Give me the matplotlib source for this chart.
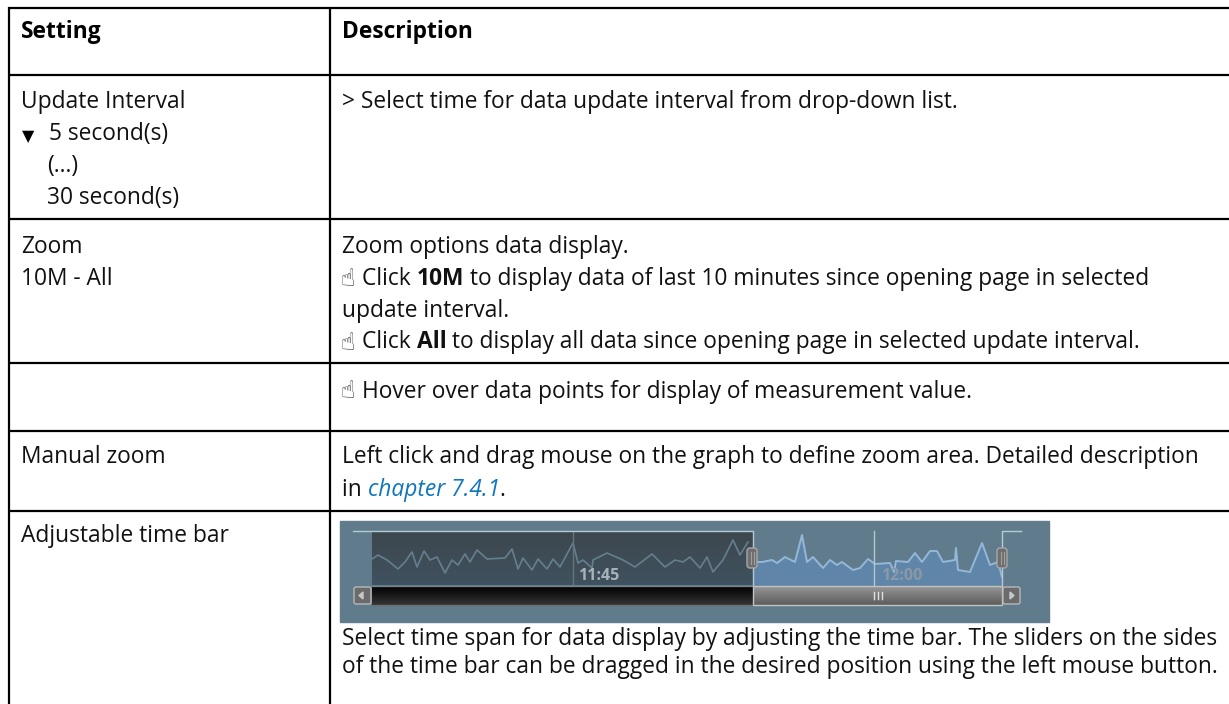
import numpy as np
import matplotlib
matplotlib.use('Agg')
import matplotlib.pyplot as plt
from matplotlib.patches import Rectangle, FancyBboxPatch

plt.rcParams['font.family'] = ['Open Sans', 'DejaVu Sans']

# table text
headers = ['Setting', 'Description']
row_lines = [8, 75, 219, 362.5, 431, 511]
col_lines = [9, 330]

left_cells = [
    (108.5, 21, 'Update Interval'),
    (140.5, 49, '5 second(s)'),
    (172.5, 47, '(...)'),
    (204.5, 47, '30 second(s)'),
    (253, 21, 'Zoom'),
    (285, 21, '10M - All'),
    (463, 21, 'Manual zoom'),
    (541.5, 21, 'Adjustable time bar'),
]
# each line of the right column is a list of (text, style) runs
right_cells = [
    (108.5, [('> Select time for data update interval from drop-down list.', 'n')]),
    (253, [('Zoom options data display.', 'n')]),
    (285, [('Click ', 'n'), ('10M', 'b'), (' to display data of last 10 minutes since opening page in selected', 'n')]),
    (317, [('update interval.', 'n')]),
    (348.5, [('Click ', 'n'), ('All', 'b'), (' to display all data since opening page in selected update interval.', 'n')]),
    (397.5, [('Hover over data points for display of measurement value.', 'n')]),
    (463, [('Left click and drag mouse on the graph to define zoom area. Detailed description', 'n')]),
    (495.5, [('in ', 'n'), ('chapter 7.4.1', 'l'), ('.', 'n')]),
    (645, [('Select time span for data display by adjusting the time bar. The sliders on the sides', 'n')]),
    (673, [('of the time bar can be dragged in the desired position using the left mouse button.', 'n')]),
]
hand_rows = [285, 348.5, 397.5]

# time bar curve (pixels)
wave_x = [372, 378, 387, 398, 405, 412, 417, 424, 430, 437, 445, 452, 458, 465, 470, 477,
          487, 505, 512, 518, 523, 532, 538, 547, 553, 560, 573, 578, 583, 592, 593, 607,
          623, 635, 652, 665, 675, 683, 690, 700, 707, 713, 723, 733, 740, 748, 753,
          762, 772, 777, 785, 795, 802, 807, 813, 823, 830, 837, 842, 853, 860, 868,
          875, 890, 894, 896, 908, 915, 922, 930, 937, 943, 955, 956, 958, 970, 982, 990,
          998, 1002]
wave_y = [559, 555, 560, 569, 562, 552, 567, 551, 560, 557, 573, 560, 565, 554, 562, 550,
          559, 558, 549, 569, 558, 570, 559, 569, 559, 567, 543, 563, 560, 568, 560, 553,
          560, 567, 554, 567, 560, 562, 557, 568, 557, 572, 560, 540, 555, 542, 562,
          562, 560, 563, 557, 562, 535, 562, 557, 568, 560, 565, 562, 570, 568, 559,
          564, 563, 572, 561, 562, 553, 562, 551, 551, 562, 560, 548, 570, 572, 543, 565,
          562, 577]
bar_labels = ['11:45', '12:00']
bar_label_x = [578, 881]
grid_x = [573, 874]

fig = plt.figure(figsize=(12.29, 7.04), dpi=100)
ax = fig.add_axes([0, 0, 1, 1])
ax.set_xlim(0, 1229)
ax.set_ylim(704, 0)
ax.axis('off')

# grid of the table
for y in row_lines:
    ax.plot([8, 1229], [y, y], color='black', lw=1.6, solid_capstyle='butt')
for x in col_lines:
    ax.plot([x, x], [7, 704], color='black', lw=1.6, solid_capstyle='butt')


def gradient(x0, x1, y0, y1, c0, c1, z=2):
    g = np.linspace(0, 1, 32)[:, None, None]
    c0 = np.array(matplotlib.colors.to_rgb(c0))
    c1 = np.array(matplotlib.colors.to_rgb(c1))
    ax.imshow(c0 + (c1 - c0) * g, extent=[x0, x1, y1, y0], aspect='auto', zorder=z)


# screenshot of the time bar
ax.add_patch(Rectangle((340, 521), 709, 101, color='#607b8b', zorder=1))
gradient(372, 753, 532, 585, '#3d474e', '#40525f')
gradient(372, 753, 586, 605, '#000000', '#353535')
wx = np.array(wave_x)
wy = np.array(wave_y)
on_right = wx >= 753
ax.fill_between(wx[on_right], wy[on_right], 585, color='#5f86a8', lw=0, zorder=2)
ax.plot(wx[~on_right], wy[~on_right], color='#667f8f', lw=1.2, zorder=3, solid_joinstyle='round')
ax.plot(wx[on_right], wy[on_right], color='#93b8d8', lw=1.4, zorder=3, solid_joinstyle='round')
ax.plot([353, 753, 753], [531, 531, 585], color='#b5cad6', lw=1.0, zorder=4)
ax.plot([1002, 1002, 1021], [585, 531, 531], color='#b5cad6', lw=1.0, zorder=4)
ax.plot([372, 753], [585.5, 585.5], color='#76838b', lw=1.0, zorder=4)
ax.plot([372, 753], [605, 605], color='#6c6c6c', lw=1.0, zorder=4)
ax.plot([grid_x[0]] * 2, [532, 585], color='#66747d', lw=1.0, zorder=3)
ax.plot([grid_x[1]] * 2, [531, 585], color='#b4c6d2', lw=1.0, zorder=3)
ax.text(bar_label_x[0], 580, bar_labels[0], color='#a8b2b8', fontsize=11.5, fontweight='bold', zorder=4)
ax.text(bar_label_x[1], 580, bar_labels[1], color='#8b99a6', fontsize=11.5, fontweight='bold', zorder=4)

gradient(753, 1002, 586, 605, '#969696', '#5d5d5d', z=3)
ax.add_patch(Rectangle((753, 586), 249, 19, fill=False, ec='#c0c4c6', lw=1.0, zorder=4))
for gx in [873.5, 877.5, 881.5]:
    ax.plot([gx, gx], [592, 599], color='#e0e0e0', lw=1.0, zorder=4)
for bx, arrow in [(353, [(363, 592), (363, 599), (359, 595.5)]), (1002, [(1010, 592), (1010, 599), (1014, 595.5)])]:
    ax.add_patch(FancyBboxPatch((bx + 1, 587), 17, 17, boxstyle='round,pad=0,rounding_size=2',
                                fc='#6b6b6b', ec='#b8b8b8', lw=1.0, zorder=4))
    ax.fill(*zip(*arrow), color='#c8c8c8', zorder=5)
for sx in [752, 1002]:
    ax.add_patch(FancyBboxPatch((sx - 5, 548), 10, 20, boxstyle='round,pad=0,rounding_size=3',
                                fc='#6e6e6e', ec='#a8a8a8', lw=1.0, zorder=5))
    for d in [-1.5, 1.5]:
        ax.plot([sx + d, sx + d], [552, 564], color='#a0a0a0', lw=0.8, zorder=6)

FS = 16.4
ax.text(21, 38, headers[0], fontsize=FS, fontweight='bold', color='black')
ax.text(342, 38, headers[1], fontsize=FS, fontweight='bold', color='black')
for y, x, s in left_cells:
    ax.text(x, y, s, fontsize=FS, color='#111111')
ax.text(22, 141, '\u25bc', fontsize=11.5, color='black', family='DejaVu Sans')

fig.canvas.draw()
rend = fig.canvas.get_renderer()
for y, runs in right_cells:
    x = 342
    if y in hand_rows:
        ax.text(340, y + 1, '\u261d', fontsize=17, color='#333333', family='DejaVu Sans')
        x = 362
    for s, style in runs:
        kw = {'fontsize': FS, 'color': '#111111'}
        if style == 'b':
            kw['fontweight'] = 'bold'
        if style == 'l':
            kw['style'] = 'italic'
            kw['color'] = '#0f76bd'
        t = ax.text(x, y, s, **kw)
        # trailing spaces count in the advance, so measure with a stop char
        probe = ax.text(0, 0, s + '|', **kw)
        bar = ax.text(0, 0, '|', **kw)
        x += (probe.get_window_extent(rend).width - bar.get_window_extent(rend).width)
        probe.remove()
        bar.remove()

fig.savefig('out.png', dpi=100)
